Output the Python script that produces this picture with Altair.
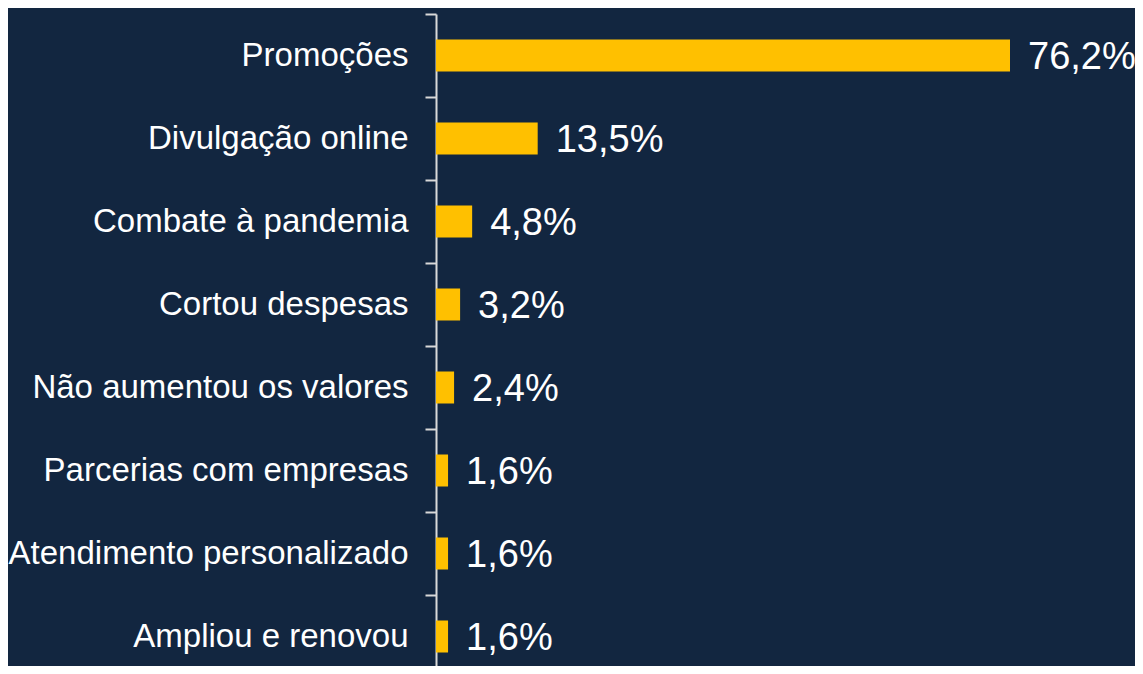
import altair as alt
import pandas as pd

categories = [
    "Promoções",
    "Divulgação online",
    "Combate à pandemia",
    "Cortou despesas",
    "Não aumentou os valores",
    "Parcerias com empresas",
    "Atendimento personalizado",
    "Ampliou e renovou",
]
values = [76.2, 13.5, 4.8, 3.2, 2.4, 1.6, 1.6, 1.6]
labels = [f"{v:.1f}".replace(".", ",") + "%" for v in values]

df = pd.DataFrame({"cat": categories, "val": values, "label": labels})

FONT = "Liberation Sans"
BG = "#122640"

y = alt.Y(
    "cat:N",
    sort=categories,
    scale=alt.Scale(range=[0, 664], paddingInner=0, paddingOuter=0),
    axis=alt.Axis(
        title=None,
        tickBand="extent",
        tickSize=11,
        tickWidth=2,
        tickColor="#D9D9D9",
        domainColor="#D9D9D9",
        domainWidth=2,
        labelPadding=17,
        labelFont=FONT,
        labelFontSize=33,
        labelColor="white",
        labelLimit=0,
        grid=False,
    ),
)
x = alt.X("val:Q", scale=alt.Scale(domain=[0, 76.2], nice=False, zero=True), axis=None)

bars = alt.Chart(df).mark_bar(size=32, color="#FFC000").encode(x=x, y=y)
text = alt.Chart(df).mark_text(
    align="left", baseline="middle", dx=18, dy=2, fontSize=38, color="white", font=FONT
).encode(x=x, y=y, text="label:N")

chart = (
    alt.layer(bars, text)
    .properties(
        width=574,
        height=652,
        padding={"left": 428, "top": 6, "right": 125, "bottom": 0},
        autosize=alt.AutoSizeParams(type="none"),
        background=BG,
    )
    .configure_view(stroke=None)
)

chart.save("out.html", embed_options={"renderer": "svg", "actions": False})
